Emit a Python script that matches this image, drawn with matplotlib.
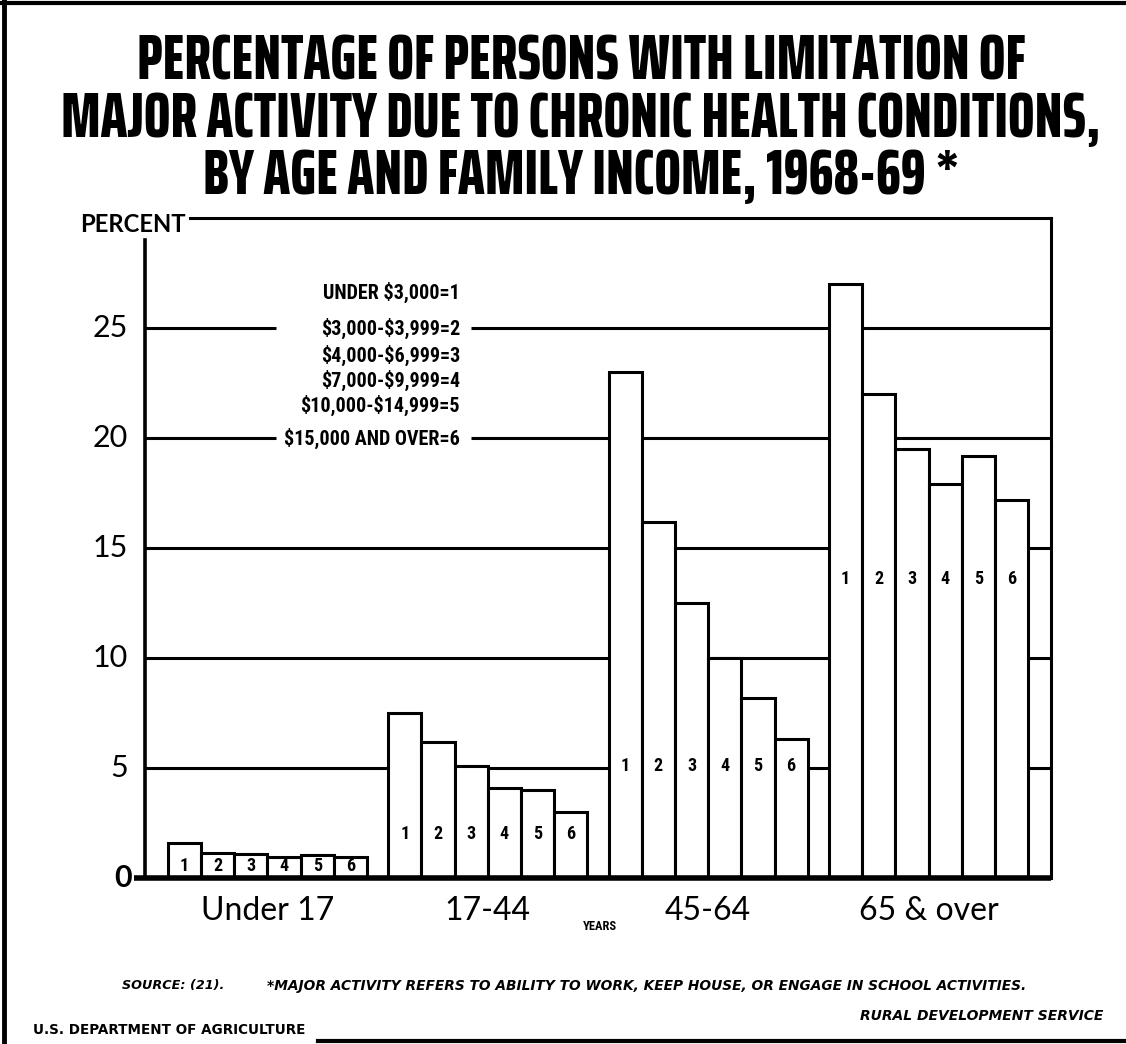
import matplotlib
matplotlib.use("Agg")
import matplotlib.pyplot as plt
from matplotlib import font_manager as fm
from matplotlib.lines import Line2D
from matplotlib.textpath import TextPath

plt.rcParams['text.parse_math'] = False

# ---------------- data ----------------
age_groups = ['Under 17', '17-44', '45-64', '65 & over']
income_labels = ['UNDER $3,000=1', '$3,000-$3,999=2', '$4,000-$6,999=3',
                 '$7,000-$9,999=4', '$10,000-$14,999=5', '$15,000 AND OVER=6']
bar_codes = ['1', '2', '3', '4', '5', '6']
under17 = [1.6, 1.15, 1.1, 0.95, 1.05, 0.95]
age17_44 = [7.5, 6.2, 5.1, 4.1, 4.0, 3.0]
age45_64 = [23.0, 16.2, 12.5, 10.0, 8.2, 6.3]
age65_over = [27.0, 22.0, 19.5, 17.9, 19.2, 17.2]
y_ticks = [5, 10, 15, 20, 25]
title_lines = ['PERCENTAGE OF PERSONS WITH LIMITATION OF',
               'MAJOR ACTIVITY DUE TO CHRONIC HEALTH CONDITIONS,',
               'BY AGE AND FAMILY INCOME, 1968-69 *']
series = [under17, age17_44, age45_64, age65_over]

# ---------------- fonts ----------------
names = {f.name for f in fm.fontManager.ttflist}
cond = next((n for n in ['Roboto Condensed', 'Liberation Sans Narrow', 'DejaVu Sans Condensed',
                         'Noto Sans Condensed', 'Open Sans Condensed']
             if n in names), 'DejaVu Sans')
geo = next((n for n in ['Lato', 'Noto Sans', 'Open Sans'] if n in names), 'DejaVu Sans')

W, H = 1126, 1044
fig = plt.figure(figsize=(W / 100, H / 100), dpi=100)
fig.patch.set_facecolor('white')
renderer = fig.canvas.get_renderer()


def _wt(f):
    w = f.weight
    if isinstance(w, str):
        w = fm.weight_dict.get(w, 400)
    return w


# choose a bold, condensed face whose proportions best match the title lettering
TARGET = 0.040   # cap height / width of the second title line
title_props = [fm.FontProperties(family=cond, weight='bold')]
for f in fm.fontManager.ttflist:
    if 700 <= _wt(f) <= 800 and f.style == 'normal' and \
            f.stretch in ('condensed', 'semi-condensed', 'extra-condensed'):
        title_props.append(fm.FontProperties(fname=f.fname))
best, best_err = title_props[0], None
for fp in title_props:
    try:
        cap = TextPath((0, 0), 'H', size=100, prop=fp).get_extents().height
        wid = TextPath((0, 0), title_lines[1], size=100, prop=fp).get_extents().width
    except Exception:
        continue
    err = abs(cap / wid - TARGET)
    if best_err is None or err < best_err:
        best, best_err = fp, err
title_fp = best


def fx(px):
    return px / W


def fy(py):
    return 1 - py / H


def fit(t, target):
    bb = t.get_window_extent(renderer)
    t.set_fontsize(t.get_fontsize() * target / bb.width)


# ---------------- axes ----------------
AX_L, AX_R, AX_B = 145, 1051, 878
PPU = 22.0
YMAX = 30
AX_T = AX_B - YMAX * PPU
ax = fig.add_axes([fx(AX_L), fy(AX_B), (AX_R - AX_L) / W, (AX_B - AX_T) / H])
BW = 1.0
PITCH = 6.64
OFF = 0.69
XMAX = 2 * OFF + 3 * PITCH + 6 * BW
XPX = (AX_R - AX_L) / XMAX
ax.set_xlim(0, XMAX)
ax.set_ylim(0, YMAX)
ax.axis('off')


def dx(px):
    return (px - AX_L) / XPX


LW = 2.2
# gridlines
for y in y_ticks:
    if y in (20, 25):
        ax.plot([0, dx(276)], [y, y], color='black', lw=LW, zorder=1, solid_capstyle='butt')
        ax.plot([dx(471), XMAX], [y, y], color='black', lw=LW, zorder=1, solid_capstyle='butt')
    else:
        ax.plot([0, XMAX], [y, y], color='black', lw=LW, zorder=1, solid_capstyle='butt')

# frame pieces
ax.plot([dx(190), XMAX], [YMAX, YMAX], color='black', lw=LW, clip_on=False, zorder=5)
ax.plot([XMAX, XMAX], [0, YMAX], color='black', lw=LW, clip_on=False, zorder=5)
ax.plot([0, 0], [0, 29.0], color='black', lw=2.6, clip_on=False, zorder=5)
ax.plot([dx(134), XMAX], [0, 0], color='black', lw=4.0, clip_on=False, zorder=6,
        solid_capstyle='butt')

# bars
label_y = [0.55, 2.0, 5.1, 13.6]
for g, vals in enumerate(series):
    xs = [OFF + g * PITCH + i * BW for i in range(len(vals))]
    ax.bar(xs, vals, width=BW, align='edge', facecolor='white', edgecolor='black',
           linewidth=LW, zorder=3)
    for x, code in zip(xs, bar_codes):
        ax.text(x + BW / 2, label_y[g], code, ha='center', va='center', fontsize=13,
                fontweight='bold', family=[cond, 'DejaVu Sans'], zorder=4)
    ax.text(OFF + g * PITCH + 3 * BW, -1.5, age_groups[g], ha='center', va='center',
            fontsize=23, family=[geo, 'DejaVu Sans'], clip_on=False)

# y tick labels
for y in y_ticks:
    ax.text(dx(128), y, str(y), ha='right', va='center', fontsize=22,
            family=[geo, 'DejaVu Sans'], clip_on=False)
ax.text(dx(132), 0, '0', ha='right', va='center', fontsize=22, fontweight='bold',
        family=[geo, 'DejaVu Sans'], clip_on=False)

# legend text
leg_y = [26.6, 25.0, 23.75, 22.6, 21.5, 20.0]
leg_texts = []
for lab, y in zip(income_labels, leg_y):
    leg_texts.append(ax.text(dx(460), y, lab, ha='right', va='center', fontsize=12,
                             fontweight='bold', family=[cond, 'DejaVu Sans']))
bb = leg_texts[-1].get_window_extent(renderer)
scale = 176 / bb.width
for t in leg_texts:
    t.set_fontsize(12 * scale)

ax.text(dx(600), -2.2, 'YEARS', ha='center', va='center', fontsize=9,
        fontweight='bold', family=[cond, 'DejaVu Sans'], clip_on=False)

# PERCENT label
tp = fig.text(fx(80), fy(224), 'PERCENT', ha='left', va='center', fontsize=16,
              fontweight='bold', family=[geo, 'DejaVu Sans'])
fit(tp, 106)

# title
tts = []
for line, yc in zip(title_lines, [62, 120, 177]):
    tts.append(fig.text(fx(581), fy(yc), line, ha='center', va='center', fontsize=30,
                        fontproperties=title_fp.copy()))
bb = tts[1].get_window_extent(renderer)
s = 1038 / bb.width
for t in tts:
    t.set_fontsize(30 * s)

# footnotes
t1 = fig.text(fx(122), fy(986), 'SOURCE: (21).', ha='left', va='center', fontsize=8,
              fontweight='bold', style='italic', family='DejaVu Sans')
fit(t1, 103)
t2 = fig.text(fx(267), fy(986),
              '*MAJOR ACTIVITY REFERS TO ABILITY TO WORK, KEEP HOUSE, OR ENGAGE IN SCHOOL ACTIVITIES.',
              ha='left', va='center', fontsize=8, fontweight='bold', style='italic',
              family='DejaVu Sans')
fit(t2, 763)
t3 = fig.text(fx(33), fy(1030), 'U.S. DEPARTMENT OF AGRICULTURE', ha='left', va='center',
              fontsize=8, fontweight='bold', family='DejaVu Sans')
fit(t3, 272)
t4 = fig.text(fx(860), fy(1016), 'RURAL DEVELOPMENT SERVICE', ha='left', va='center',
              fontsize=8, fontweight='bold', style='italic', family='DejaVu Sans')
fit(t4, 245)

# outer border pieces
fig.add_artist(Line2D([0, 1], [fy(3), fy(3)], transform=fig.transFigure, color='black', lw=3))
fig.add_artist(Line2D([fx(4), fx(4)], [0, 1], transform=fig.transFigure, color='black', lw=3.5))
fig.add_artist(Line2D([fx(318), 1], [fy(1041), fy(1041)], transform=fig.transFigure,
                      color='black', lw=3))

fig.savefig('out.png', dpi=100, facecolor='white')
